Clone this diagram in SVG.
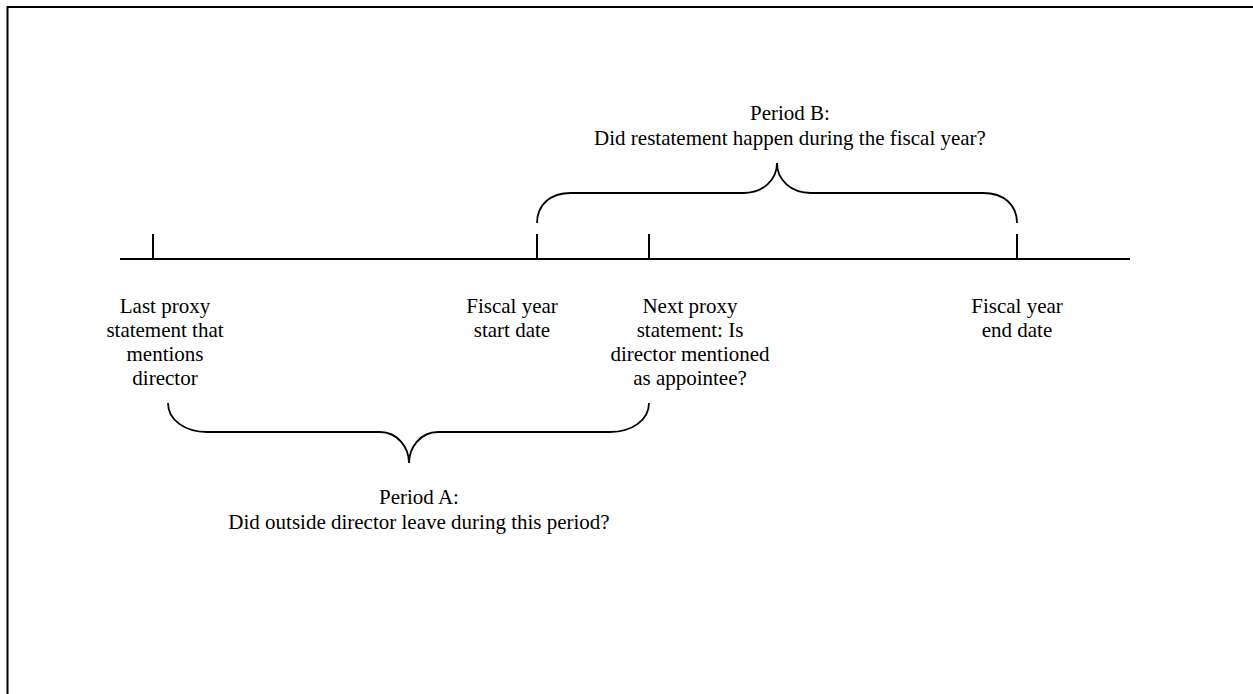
<svg xmlns="http://www.w3.org/2000/svg" width="1253" height="694" viewBox="0 0 1253 694">
<style>
text{font-family:"Liberation Serif","Times New Roman",serif;font-size:21px;fill:#000;text-anchor:middle}
.ln{stroke:#000;stroke-width:2;fill:none}
.br{stroke:#000;stroke-width:1.8;fill:none}
</style>
<rect width="1253" height="694" fill="#fff"/>
<g id="frame">
<path class="ln" d="M7.5,694 V7 H1253"/>
</g>
<g id="connectors">
<line class="ln" x1="120" y1="259" x2="1130" y2="259"/>
<line class="ln" x1="153" y1="234" x2="153" y2="259"/>
<line class="ln" x1="537" y1="234" x2="537" y2="259"/>
<line class="ln" x1="649" y1="234" x2="649" y2="259"/>
<line class="ln" x1="1017" y1="234" x2="1017" y2="259"/>
<path id="braceB" class="br" d="M537,223 C537,205 550,193 571,193 L743,193 C763,193 777,180 777,163 C777,180 791,193 811,193 L983,193 C1004,193 1017,205 1017,223"/>
<path id="braceA" class="br" d="M168,403 C168,420 185,432 207,432 L380,432 C398,432 409,448 409,463 C409,448 420,432 438,432 L610,432 C632,432 649,420 649,403"/>
</g>
<g id="last-proxy">
<text x="165" y="313">Last proxy</text>
<text x="165" y="337">statement that</text>
<text x="165" y="361">mentions</text>
<text x="165" y="385">director</text>
</g>
<g id="fy-start">
<text x="512" y="313">Fiscal year</text>
<text x="512" y="337">start date</text>
</g>
<g id="next-proxy">
<text x="690" y="313">Next proxy</text>
<text x="690" y="337">statement: Is</text>
<text x="690" y="361">director mentioned</text>
<text x="690" y="385">as appointee?</text>
</g>
<g id="fy-end">
<text x="1017" y="313">Fiscal year</text>
<text x="1017" y="337">end date</text>
</g>
<g id="period-b">
<text x="790" y="120">Period B:</text>
<text x="790" y="145">Did restatement happen during the fiscal year?</text>
</g>
<g id="period-a">
<text x="419" y="504">Period A:</text>
<text x="419" y="529">Did outside director leave during this period?</text>
</g>
</svg>
